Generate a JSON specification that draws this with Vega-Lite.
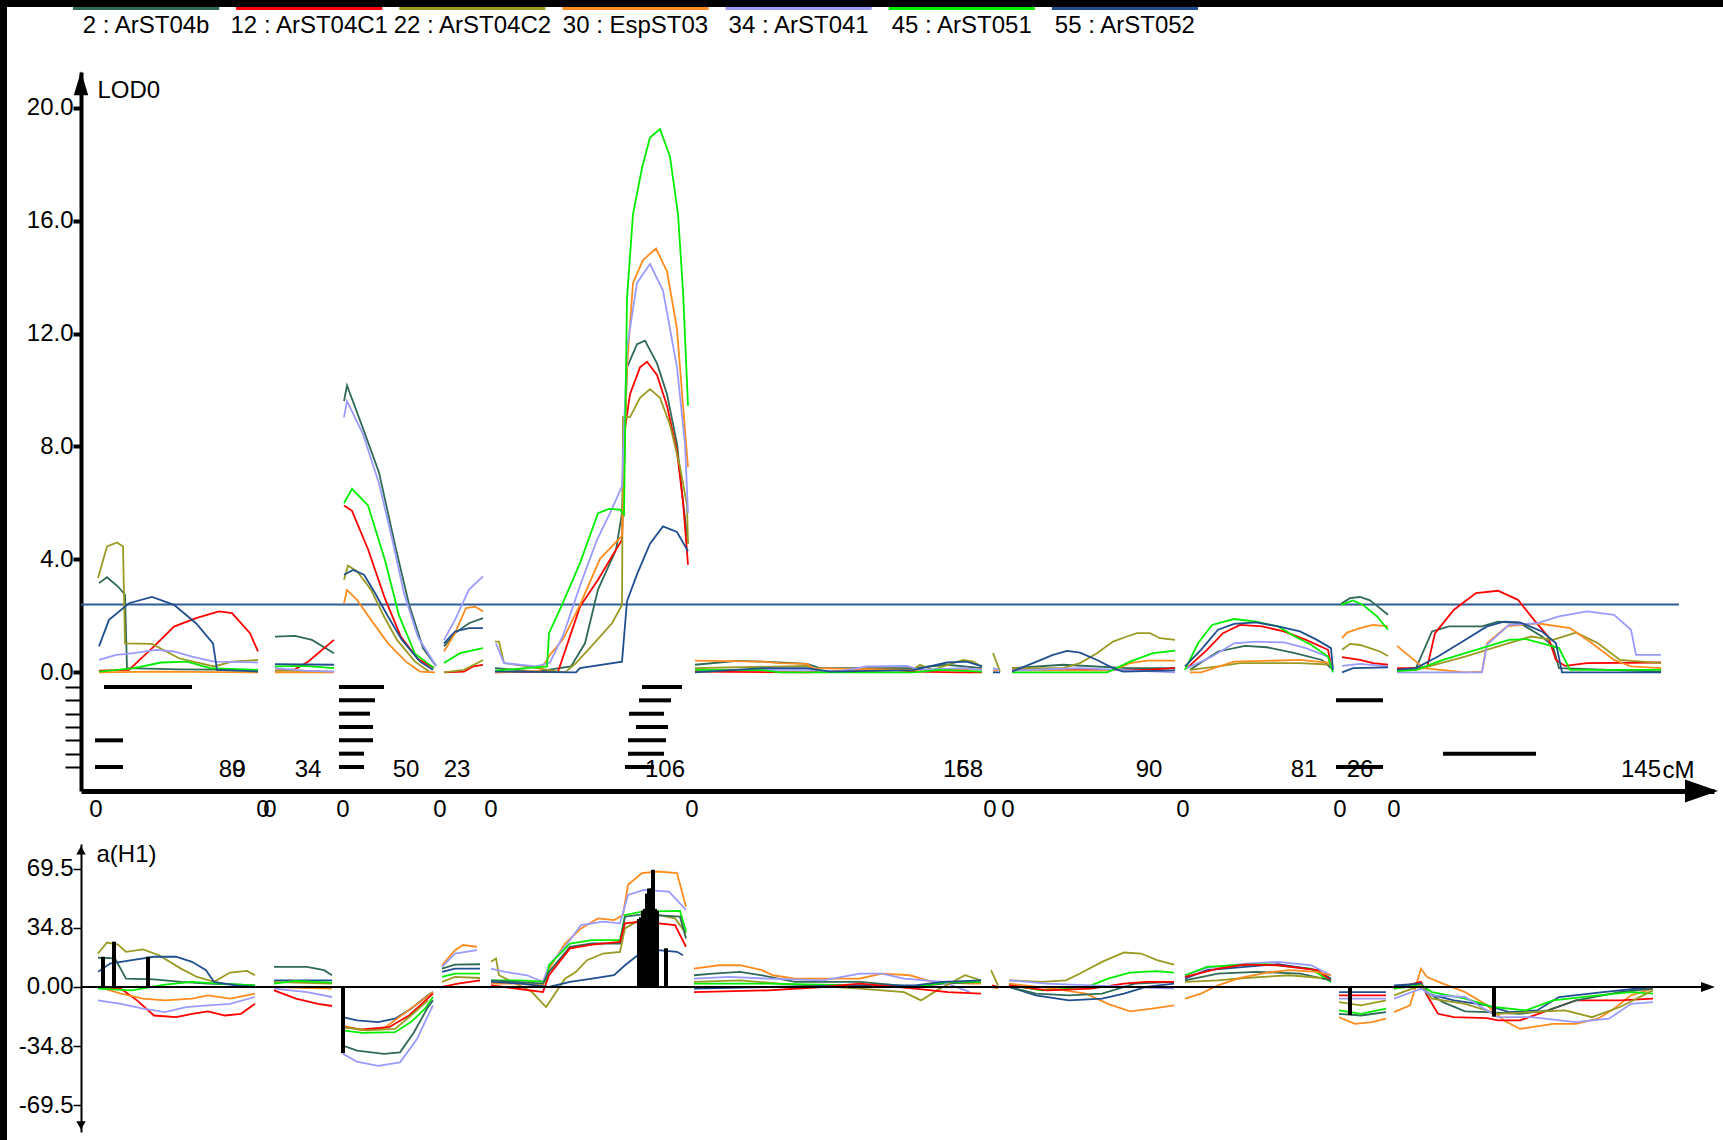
{
"$schema": "https://vega.github.io/schema/vega-lite/v6.json",
"width": 1716, "height": 1133,
"autosize": {"type": "none"},
"padding": {"left": 7, "top": 7, "right": 0, "bottom": 0},
"background": "black",
"config": {"view": {"fill": "white", "stroke": null}, "font": "Liberation Sans", "axis": {"grid": false, "labelFont": "Liberation Sans", "titleFont": "Liberation Sans"}},
"datasets": {
"legend": [
{"trait":"ArST04b","label":"2 : ArST04b"},{"trait":"ArST04C1","label":"12 : ArST04C1"},{"trait":"ArST04C2","label":"22 : ArST04C2"},{"trait":"EspST03","label":"30 : EspST03"},{"trait":"ArST041","label":"34 : ArST041"},{"trait":"ArST051","label":"45 : ArST051"},{"trait":"ArST052","label":"55 : ArST052"}],
"lglabels": [
{"side":"start","label":"0","pos":96},{"side":"start","label":"0","pos":263},{"side":"start","label":"0","pos":270},{"side":"start","label":"0","pos":343},{"side":"start","label":"0","pos":440},{"side":"start","label":"0","pos":491},{"side":"start","label":"0","pos":692},{"side":"start","label":"0","pos":990},{"side":"start","label":"0","pos":1008},{"side":"start","label":"0","pos":1183},{"side":"start","label":"0","pos":1340},{"side":"start","label":"0","pos":1394},
{"side":"end","label":"89","pos":232},{"side":"end","label":"0","pos":239},{"side":"end","label":"34","pos":308},{"side":"end","label":"50","pos":406},{"side":"end","label":"23","pos":457},{"side":"end","label":"106","pos":665},{"side":"end","label":"158","pos":963},{"side":"end","label":"6","pos":963},{"side":"end","label":"90","pos":1149},{"side":"end","label":"81","pos":1304},{"side":"end","label":"26","pos":1360},{"side":"end","label":"145","pos":1641}],
"intervals": [
{"trait":"ArST04b","start":104,"end":192},{"trait":"ArST041","start":95,"end":123},{"trait":"ArST052","start":95,"end":123},
{"trait":"ArST04b","start":339,"end":384},{"trait":"ArST04C1","start":339,"end":375},{"trait":"ArST04C2","start":339,"end":370},{"trait":"EspST03","start":339,"end":373},{"trait":"ArST041","start":339,"end":373},{"trait":"ArST051","start":339,"end":364},{"trait":"ArST052","start":339,"end":364},
{"trait":"ArST04b","start":642,"end":682},{"trait":"ArST04C1","start":639,"end":671},{"trait":"ArST04C2","start":629,"end":664},{"trait":"EspST03","start":636,"end":668},{"trait":"ArST041","start":628,"end":666},{"trait":"ArST051","start":628,"end":664},{"trait":"ArST052","start":625,"end":654},
{"trait":"ArST04C1","start":1336,"end":1383},{"trait":"ArST052","start":1336,"end":1383},{"trait":"ArST051","start":1443,"end":1536}],
"needles": [
{"pos":103,"effect":17.8},{"pos":114,"effect":26.7},{"pos":148,"effect":17.8},{"pos":343,"effect":-39},{"pos":639,"effect":40},{"pos":641,"effect":41},{"pos":643,"effect":45},{"pos":645,"effect":46},{"pos":647,"effect":55},{"pos":649,"effect":58},{"pos":651,"effect":58},{"pos":653,"effect":69},{"pos":655,"effect":46},{"pos":657,"effect":45},{"pos":666,"effect":22.8},{"pos":1350,"effect":-16.5},{"pos":1494,"effect":-17.5}],
"lod": [
{"trait":"ArST04b","lg":1,"pos":99,"lod":3.16},{"trait":"ArST04b","lg":1,"pos":107,"lod":3.37},{"trait":"ArST04b","lg":1,"pos":118,"lod":3.04},{"trait":"ArST04b","lg":1,"pos":125,"lod":2.75},{"trait":"ArST04b","lg":1,"pos":127,"lod":0.15},{"trait":"ArST04b","lg":1,"pos":179,"lod":0.11},{"trait":"ArST04b","lg":1,"pos":258,"lod":0.09},
{"trait":"ArST04C1","lg":1,"pos":99,"lod":0.06},{"trait":"ArST04C1","lg":1,"pos":129,"lod":0.09},{"trait":"ArST04C1","lg":1,"pos":154,"lod":0.92},{"trait":"ArST04C1","lg":1,"pos":174,"lod":1.62},{"trait":"ArST04C1","lg":1,"pos":196,"lod":1.92},{"trait":"ArST04C1","lg":1,"pos":219,"lod":2.16},{"trait":"ArST04C1","lg":1,"pos":232,"lod":2.1},{"trait":"ArST04C1","lg":1,"pos":250,"lod":1.39},{"trait":"ArST04C1","lg":1,"pos":258,"lod":0.74},
{"trait":"ArST04C2","lg":1,"pos":98,"lod":3.34},{"trait":"ArST04C2","lg":1,"pos":107,"lod":4.46},{"trait":"ArST04C2","lg":1,"pos":117,"lod":4.6},{"trait":"ArST04C2","lg":1,"pos":123,"lod":4.46},{"trait":"ArST04C2","lg":1,"pos":125,"lod":1.03},{"trait":"ArST04C2","lg":1,"pos":152,"lod":1.01},{"trait":"ArST04C2","lg":1,"pos":179,"lod":0.5},{"trait":"ArST04C2","lg":1,"pos":214,"lod":0.21},{"trait":"ArST04C2","lg":1,"pos":232,"lod":0.38},{"trait":"ArST04C2","lg":1,"pos":258,"lod":0.44},
{"trait":"EspST03","lg":1,"pos":99,"lod":0},{"trait":"EspST03","lg":1,"pos":156,"lod":0.03},{"trait":"EspST03","lg":1,"pos":258,"lod":0},
{"trait":"ArST041","lg":1,"pos":99,"lod":0.44},{"trait":"ArST041","lg":1,"pos":116,"lod":0.62},{"trait":"ArST041","lg":1,"pos":134,"lod":0.68},{"trait":"ArST041","lg":1,"pos":156,"lod":0.8},{"trait":"ArST041","lg":1,"pos":174,"lod":0.74},{"trait":"ArST041","lg":1,"pos":192,"lod":0.56},{"trait":"ArST041","lg":1,"pos":214,"lod":0.38},{"trait":"ArST041","lg":1,"pos":258,"lod":0.35},
{"trait":"ArST051","lg":1,"pos":99,"lod":0.03},{"trait":"ArST051","lg":1,"pos":134,"lod":0.15},{"trait":"ArST051","lg":1,"pos":161,"lod":0.35},{"trait":"ArST051","lg":1,"pos":187,"lod":0.38},{"trait":"ArST051","lg":1,"pos":210,"lod":0.15},{"trait":"ArST051","lg":1,"pos":258,"lod":0.09},
{"trait":"ArST052","lg":1,"pos":99,"lod":0.92},{"trait":"ArST052","lg":1,"pos":109,"lod":1.86},{"trait":"ArST052","lg":1,"pos":129,"lod":2.45},{"trait":"ArST052","lg":1,"pos":152,"lod":2.67},{"trait":"ArST052","lg":1,"pos":174,"lod":2.39},{"trait":"ArST052","lg":1,"pos":196,"lod":1.74},{"trait":"ArST052","lg":1,"pos":213,"lod":1.03},{"trait":"ArST052","lg":1,"pos":217,"lod":0.09},{"trait":"ArST052","lg":1,"pos":258,"lod":0.03},
{"trait":"ArST04b","lg":3,"pos":275,"lod":1.27},{"trait":"ArST04b","lg":3,"pos":295,"lod":1.29},{"trait":"ArST04b","lg":3,"pos":312,"lod":1.15},{"trait":"ArST04b","lg":3,"pos":334,"lod":0.68},
{"trait":"ArST04C1","lg":3,"pos":275,"lod":0.06},{"trait":"ArST04C1","lg":3,"pos":295,"lod":0.11},{"trait":"ArST04C1","lg":3,"pos":308,"lod":0.38},{"trait":"ArST04C1","lg":3,"pos":334,"lod":1.15},
{"trait":"ArST04C2","lg":3,"pos":275,"lod":0.06},{"trait":"ArST04C2","lg":3,"pos":334,"lod":0.03},
{"trait":"EspST03","lg":3,"pos":275,"lod":0},{"trait":"EspST03","lg":3,"pos":334,"lod":0},
{"trait":"ArST041","lg":3,"pos":275,"lod":0.15},{"trait":"ArST041","lg":3,"pos":304,"lod":0.06},{"trait":"ArST041","lg":3,"pos":334,"lod":0.03},
{"trait":"ArST051","lg":3,"pos":275,"lod":0.21},{"trait":"ArST051","lg":3,"pos":304,"lod":0.23},{"trait":"ArST051","lg":3,"pos":334,"lod":0.15},
{"trait":"ArST052","lg":3,"pos":275,"lod":0.29},{"trait":"ArST052","lg":3,"pos":334,"lod":0.27},
{"trait":"ArST04b","lg":4,"pos":344,"lod":9.61},{"trait":"ArST04b","lg":4,"pos":347,"lod":10.16},{"trait":"ArST04b","lg":4,"pos":363,"lod":8.64},{"trait":"ArST04b","lg":4,"pos":379,"lod":7.08},{"trait":"ArST04b","lg":4,"pos":396,"lod":4.36},{"trait":"ArST04b","lg":4,"pos":409,"lod":2.41},{"trait":"ArST04b","lg":4,"pos":423,"lod":0.86},{"trait":"ArST04b","lg":4,"pos":436,"lod":0.23},
{"trait":"ArST04C1","lg":4,"pos":344,"lod":5.91},{"trait":"ArST04C1","lg":4,"pos":352,"lod":5.72},{"trait":"ArST04C1","lg":4,"pos":368,"lod":4.36},{"trait":"ArST04C1","lg":4,"pos":385,"lod":2.61},{"trait":"ArST04C1","lg":4,"pos":401,"lod":1.25},{"trait":"ArST04C1","lg":4,"pos":418,"lod":0.47},{"trait":"ArST04C1","lg":4,"pos":434,"lod":0.16},
{"trait":"ArST04C2","lg":4,"pos":344,"lod":3.28},{"trait":"ArST04C2","lg":4,"pos":348,"lod":3.78},{"trait":"ArST04C2","lg":4,"pos":357,"lod":3.58},{"trait":"ArST04C2","lg":4,"pos":371,"lod":2.93},{"trait":"ArST04C2","lg":4,"pos":384,"lod":1.98},{"trait":"ArST04C2","lg":4,"pos":397,"lod":1.15},{"trait":"ArST04C2","lg":4,"pos":415,"lod":0.38},{"trait":"ArST04C2","lg":4,"pos":429,"lod":0.03},
{"trait":"EspST03","lg":4,"pos":344,"lod":2.45},{"trait":"EspST03","lg":4,"pos":347,"lod":2.92},{"trait":"EspST03","lg":4,"pos":357,"lod":2.57},{"trait":"EspST03","lg":4,"pos":371,"lod":1.86},{"trait":"EspST03","lg":4,"pos":388,"lod":1.03},{"trait":"EspST03","lg":4,"pos":406,"lod":0.38},{"trait":"EspST03","lg":4,"pos":420,"lod":0.03},{"trait":"EspST03","lg":4,"pos":435,"lod":0},
{"trait":"ArST041","lg":4,"pos":344,"lod":9.03},{"trait":"ArST041","lg":4,"pos":347,"lod":9.61},{"trait":"ArST041","lg":4,"pos":363,"lod":8.44},{"trait":"ArST041","lg":4,"pos":379,"lod":6.69},{"trait":"ArST041","lg":4,"pos":392,"lod":4.75},{"trait":"ArST041","lg":4,"pos":404,"lod":2.8},{"trait":"ArST041","lg":4,"pos":418,"lod":1.25},{"trait":"ArST041","lg":4,"pos":436,"lod":0.23},
{"trait":"ArST051","lg":4,"pos":344,"lod":5.99},{"trait":"ArST051","lg":4,"pos":352,"lod":6.5},{"trait":"ArST051","lg":4,"pos":368,"lod":5.91},{"trait":"ArST051","lg":4,"pos":385,"lod":3.97},{"trait":"ArST051","lg":4,"pos":399,"lod":2.02},{"trait":"ArST051","lg":4,"pos":415,"lod":0.66},{"trait":"ArST051","lg":4,"pos":434,"lod":0.16},
{"trait":"ArST052","lg":4,"pos":344,"lod":3.46},{"trait":"ArST052","lg":4,"pos":353,"lod":3.63},{"trait":"ArST052","lg":4,"pos":364,"lod":3.46},{"trait":"ArST052","lg":4,"pos":375,"lod":2.81},{"trait":"ArST052","lg":4,"pos":388,"lod":1.98},{"trait":"ArST052","lg":4,"pos":402,"lod":1.15},{"trait":"ArST052","lg":4,"pos":420,"lod":0.38},{"trait":"ArST052","lg":4,"pos":433,"lod":0.09},
{"trait":"ArST04b","lg":5,"pos":444,"lod":0.92},{"trait":"ArST04b","lg":5,"pos":455,"lod":1.39},{"trait":"ArST04b","lg":5,"pos":469,"lod":1.74},{"trait":"ArST04b","lg":5,"pos":483,"lod":1.92},
{"trait":"ArST04C1","lg":5,"pos":444,"lod":0},{"trait":"ArST04C1","lg":5,"pos":464,"lod":0.03},{"trait":"ArST04C1","lg":5,"pos":473,"lod":0.21},{"trait":"ArST04C1","lg":5,"pos":483,"lod":0.27},
{"trait":"ArST04C2","lg":5,"pos":444,"lod":0},{"trait":"ArST04C2","lg":5,"pos":464,"lod":0.09},{"trait":"ArST04C2","lg":5,"pos":483,"lod":0.44},
{"trait":"EspST03","lg":5,"pos":444,"lod":0.74},{"trait":"EspST03","lg":5,"pos":455,"lod":1.39},{"trait":"EspST03","lg":5,"pos":466,"lod":2.28},{"trait":"EspST03","lg":5,"pos":475,"lod":2.33},{"trait":"EspST03","lg":5,"pos":483,"lod":2.16},
{"trait":"ArST041","lg":5,"pos":444,"lod":1.15},{"trait":"ArST041","lg":5,"pos":455,"lod":1.86},{"trait":"ArST041","lg":5,"pos":469,"lod":2.93},{"trait":"ArST041","lg":5,"pos":483,"lod":3.4},
{"trait":"ArST051","lg":5,"pos":444,"lod":0.33},{"trait":"ArST051","lg":5,"pos":460,"lod":0.68},{"trait":"ArST051","lg":5,"pos":483,"lod":0.86},
{"trait":"ArST052","lg":5,"pos":444,"lod":1.03},{"trait":"ArST052","lg":5,"pos":455,"lod":1.45},{"trait":"ArST052","lg":5,"pos":469,"lod":1.57},{"trait":"ArST052","lg":5,"pos":483,"lod":1.57},
{"trait":"ArST04b","lg":6,"pos":495,"lod":0.15},{"trait":"ArST04b","lg":6,"pos":536,"lod":0.03},{"trait":"ArST04b","lg":6,"pos":571,"lod":0.21},{"trait":"ArST04b","lg":6,"pos":585,"lod":1.03},{"trait":"ArST04b","lg":6,"pos":598,"lod":2.93},{"trait":"ArST04b","lg":6,"pos":616,"lod":4.34},{"trait":"ArST04b","lg":6,"pos":622,"lod":5.64},{"trait":"ArST04b","lg":6,"pos":627,"lod":10.8},{"trait":"ArST04b","lg":6,"pos":637,"lod":11.62},{"trait":"ArST04b","lg":6,"pos":645,"lod":11.75},{"trait":"ArST04b","lg":6,"pos":657,"lod":10.94},{"trait":"ArST04b","lg":6,"pos":667,"lod":9.85},{"trait":"ArST04b","lg":6,"pos":677,"lod":8.09},{"trait":"ArST04b","lg":6,"pos":683,"lod":6.05},{"trait":"ArST04b","lg":6,"pos":688,"lod":4.56},
{"trait":"ArST04C1","lg":6,"pos":495,"lod":0},{"trait":"ArST04C1","lg":6,"pos":558,"lod":0.03},{"trait":"ArST04C1","lg":6,"pos":562,"lod":0.44},{"trait":"ArST04C1","lg":6,"pos":580,"lod":2.33},{"trait":"ArST04C1","lg":6,"pos":598,"lod":3.28},{"trait":"ArST04C1","lg":6,"pos":622,"lod":4.7},{"trait":"ArST04C1","lg":6,"pos":625,"lod":8.63},{"trait":"ArST04C1","lg":6,"pos":630,"lod":9.85},{"trait":"ArST04C1","lg":6,"pos":640,"lod":10.8},{"trait":"ArST04C1","lg":6,"pos":647,"lod":11.0},{"trait":"ArST04C1","lg":6,"pos":657,"lod":10.53},{"trait":"ArST04C1","lg":6,"pos":667,"lod":9.44},{"trait":"ArST04C1","lg":6,"pos":677,"lod":7.82},{"trait":"ArST04C1","lg":6,"pos":683,"lod":6.05},{"trait":"ArST04C1","lg":6,"pos":688,"lod":3.81},
{"trait":"ArST04C2","lg":6,"pos":495,"lod":1.09},{"trait":"ArST04C2","lg":6,"pos":499,"lod":1.09},{"trait":"ArST04C2","lg":6,"pos":504,"lod":0.33},{"trait":"ArST04C2","lg":6,"pos":527,"lod":0.21},{"trait":"ArST04C2","lg":6,"pos":558,"lod":0.03},{"trait":"ArST04C2","lg":6,"pos":565,"lod":0},{"trait":"ArST04C2","lg":6,"pos":576,"lod":0.33},{"trait":"ArST04C2","lg":6,"pos":594,"lod":1.03},{"trait":"ArST04C2","lg":6,"pos":612,"lod":1.74},{"trait":"ArST04C2","lg":6,"pos":622,"lod":2.39},{"trait":"ArST04C2","lg":6,"pos":623,"lod":9.04},{"trait":"ArST04C2","lg":6,"pos":630,"lod":9.04},{"trait":"ArST04C2","lg":6,"pos":640,"lod":9.72},{"trait":"ArST04C2","lg":6,"pos":650,"lod":10.03},{"trait":"ArST04C2","lg":6,"pos":660,"lod":9.72},{"trait":"ArST04C2","lg":6,"pos":670,"lod":8.77},{"trait":"ArST04C2","lg":6,"pos":680,"lod":7.27},{"trait":"ArST04C2","lg":6,"pos":687,"lod":5.92},{"trait":"ArST04C2","lg":6,"pos":688,"lod":4.56},
{"trait":"EspST03","lg":6,"pos":495,"lod":0},{"trait":"EspST03","lg":6,"pos":540,"lod":0.05},{"trait":"EspST03","lg":6,"pos":550,"lod":0.62},{"trait":"EspST03","lg":6,"pos":563,"lod":1.17},{"trait":"EspST03","lg":6,"pos":580,"lod":2.39},{"trait":"EspST03","lg":6,"pos":600,"lod":4.02},{"trait":"EspST03","lg":6,"pos":622,"lod":4.83},{"trait":"EspST03","lg":6,"pos":627,"lod":10.8},{"trait":"EspST03","lg":6,"pos":633,"lod":13.79},{"trait":"EspST03","lg":6,"pos":643,"lod":14.6},{"trait":"EspST03","lg":6,"pos":656,"lod":15.01},{"trait":"EspST03","lg":6,"pos":667,"lod":14.2},{"trait":"EspST03","lg":6,"pos":677,"lod":12.16},{"trait":"EspST03","lg":6,"pos":683,"lod":9.44},{"trait":"EspST03","lg":6,"pos":688,"lod":7.27},
{"trait":"ArST041","lg":6,"pos":496,"lod":1.03},{"trait":"ArST041","lg":6,"pos":504,"lod":0.33},{"trait":"ArST041","lg":6,"pos":536,"lod":0.21},{"trait":"ArST041","lg":6,"pos":550,"lod":0.35},{"trait":"ArST041","lg":6,"pos":563,"lod":1.3},{"trait":"ArST041","lg":6,"pos":580,"lod":3.07},{"trait":"ArST041","lg":6,"pos":597,"lod":4.69},{"trait":"ArST041","lg":6,"pos":610,"lod":5.64},{"trait":"ArST041","lg":6,"pos":622,"lod":6.59},{"trait":"ArST041","lg":6,"pos":627,"lod":11.48},{"trait":"ArST041","lg":6,"pos":637,"lod":13.79},{"trait":"ArST041","lg":6,"pos":650,"lod":14.46},{"trait":"ArST041","lg":6,"pos":663,"lod":13.52},{"trait":"ArST041","lg":6,"pos":677,"lod":10.8},{"trait":"ArST041","lg":6,"pos":685,"lod":8.09},{"trait":"ArST041","lg":6,"pos":688,"lod":5.64},
{"trait":"ArST051","lg":6,"pos":495,"lod":0.06},{"trait":"ArST051","lg":6,"pos":547,"lod":0.21},{"trait":"ArST051","lg":6,"pos":549,"lod":1.39},{"trait":"ArST051","lg":6,"pos":562,"lod":2.39},{"trait":"ArST051","lg":6,"pos":580,"lod":3.87},{"trait":"ArST051","lg":6,"pos":598,"lod":5.64},{"trait":"ArST051","lg":6,"pos":609,"lod":5.79},{"trait":"ArST051","lg":6,"pos":620,"lod":5.76},{"trait":"ArST051","lg":6,"pos":624,"lod":5.58},{"trait":"ArST051","lg":6,"pos":627,"lod":13.24},{"trait":"ArST051","lg":6,"pos":633,"lod":16.23},{"trait":"ArST051","lg":6,"pos":642,"lod":17.86},{"trait":"ArST051","lg":6,"pos":650,"lod":18.94},{"trait":"ArST051","lg":6,"pos":660,"lod":19.24},{"trait":"ArST051","lg":6,"pos":670,"lod":18.26},{"trait":"ArST051","lg":6,"pos":678,"lod":16.23},{"trait":"ArST051","lg":6,"pos":683,"lod":13.52},{"trait":"ArST051","lg":6,"pos":688,"lod":9.44},
{"trait":"ArST052","lg":6,"pos":495,"lod":0.03},{"trait":"ArST052","lg":6,"pos":576,"lod":0},{"trait":"ArST052","lg":6,"pos":580,"lod":0.15},{"trait":"ArST052","lg":6,"pos":622,"lod":0.38},{"trait":"ArST052","lg":6,"pos":627,"lod":2.52},{"trait":"ArST052","lg":6,"pos":637,"lod":3.47},{"trait":"ArST052","lg":6,"pos":650,"lod":4.56},{"trait":"ArST052","lg":6,"pos":663,"lod":5.17},{"trait":"ArST052","lg":6,"pos":677,"lod":4.97},{"trait":"ArST052","lg":6,"pos":688,"lod":4.29},
{"trait":"ArST04b","lg":7,"pos":695,"lod":0.27},{"trait":"ArST04b","lg":7,"pos":737,"lod":0.41},{"trait":"ArST04b","lg":7,"pos":763,"lod":0.38},{"trait":"ArST04b","lg":7,"pos":793,"lod":0.33},{"trait":"ArST04b","lg":7,"pos":807,"lod":0.3},{"trait":"ArST04b","lg":7,"pos":820,"lod":0.15},{"trait":"ArST04b","lg":7,"pos":913,"lod":0.15},{"trait":"ArST04b","lg":7,"pos":947,"lod":0.27},{"trait":"ArST04b","lg":7,"pos":982,"lod":0.15},
{"trait":"ArST04C1","lg":7,"pos":695,"lod":0.03},{"trait":"ArST04C1","lg":7,"pos":807,"lod":0},{"trait":"ArST04C1","lg":7,"pos":873,"lod":0.09},{"trait":"ArST04C1","lg":7,"pos":893,"lod":0.09},{"trait":"ArST04C1","lg":7,"pos":913,"lod":0.03},{"trait":"ArST04C1","lg":7,"pos":960,"lod":0},{"trait":"ArST04C1","lg":7,"pos":982,"lod":0},
{"trait":"ArST04C2","lg":7,"pos":695,"lod":0.15},{"trait":"ArST04C2","lg":7,"pos":807,"lod":0.23},{"trait":"ArST04C2","lg":7,"pos":820,"lod":0.03},{"trait":"ArST04C2","lg":7,"pos":913,"lod":0.09},{"trait":"ArST04C2","lg":7,"pos":920,"lod":0.27},{"trait":"ArST04C2","lg":7,"pos":933,"lod":0.09},{"trait":"ArST04C2","lg":7,"pos":963,"lod":0.44},{"trait":"ArST04C2","lg":7,"pos":973,"lod":0.38},{"trait":"ArST04C2","lg":7,"pos":982,"lod":0.21},
{"trait":"EspST03","lg":7,"pos":695,"lod":0.42},{"trait":"EspST03","lg":7,"pos":763,"lod":0.38},{"trait":"EspST03","lg":7,"pos":780,"lod":0.33},{"trait":"EspST03","lg":7,"pos":807,"lod":0.3},{"trait":"EspST03","lg":7,"pos":813,"lod":0.15},{"trait":"EspST03","lg":7,"pos":913,"lod":0.09},{"trait":"EspST03","lg":7,"pos":943,"lod":0.09},{"trait":"EspST03","lg":7,"pos":982,"lod":0.11},
{"trait":"ArST041","lg":7,"pos":695,"lod":0.08},{"trait":"ArST041","lg":7,"pos":807,"lod":0.09},{"trait":"ArST041","lg":7,"pos":837,"lod":0.03},{"trait":"ArST041","lg":7,"pos":867,"lod":0.21},{"trait":"ArST041","lg":7,"pos":907,"lod":0.23},{"trait":"ArST041","lg":7,"pos":920,"lod":0.09},{"trait":"ArST041","lg":7,"pos":963,"lod":0.15},{"trait":"ArST041","lg":7,"pos":982,"lod":0.09},
{"trait":"ArST051","lg":7,"pos":695,"lod":0.09},{"trait":"ArST051","lg":7,"pos":763,"lod":0.08},{"trait":"ArST051","lg":7,"pos":780,"lod":0},{"trait":"ArST051","lg":7,"pos":913,"lod":0},{"trait":"ArST051","lg":7,"pos":940,"lod":0.09},{"trait":"ArST051","lg":7,"pos":982,"lod":0.03},
{"trait":"ArST052","lg":7,"pos":695,"lod":0},{"trait":"ArST052","lg":7,"pos":763,"lod":0.15},{"trait":"ArST052","lg":7,"pos":807,"lod":0.15},{"trait":"ArST052","lg":7,"pos":830,"lod":0.03},{"trait":"ArST052","lg":7,"pos":913,"lod":0.08},{"trait":"ArST052","lg":7,"pos":947,"lod":0.35},{"trait":"ArST052","lg":7,"pos":967,"lod":0.38},{"trait":"ArST052","lg":7,"pos":982,"lod":0.21},
{"trait":"ArST04C2","lg":8,"pos":993,"lod":0.68},{"trait":"ArST04C2","lg":8,"pos":1000,"lod":0.03},
{"trait":"EspST03","lg":8,"pos":993,"lod":0.07},{"trait":"EspST03","lg":8,"pos":998,"lod":0.07},
{"trait":"ArST041","lg":8,"pos":993,"lod":0.15},{"trait":"ArST041","lg":8,"pos":999,"lod":0.09},
{"trait":"ArST052","lg":8,"pos":993,"lod":0},{"trait":"ArST052","lg":8,"pos":1000,"lod":0},
{"trait":"ArST04b","lg":9,"pos":1012,"lod":0.15},{"trait":"ArST04b","lg":9,"pos":1063,"lod":0.27},{"trait":"ArST04b","lg":9,"pos":1127,"lod":0.15},{"trait":"ArST04b","lg":9,"pos":1175,"lod":0.15},
{"trait":"ArST04C1","lg":9,"pos":1012,"lod":0.09},{"trait":"ArST04C1","lg":9,"pos":1080,"lod":0.09},{"trait":"ArST04C1","lg":9,"pos":1147,"lod":0.09},{"trait":"ArST04C1","lg":9,"pos":1175,"lod":0.15},
{"trait":"ArST04C2","lg":9,"pos":1012,"lod":0.15},{"trait":"ArST04C2","lg":9,"pos":1063,"lod":0.15},{"trait":"ArST04C2","lg":9,"pos":1080,"lod":0.33},{"trait":"ArST04C2","lg":9,"pos":1097,"lod":0.68},{"trait":"ArST04C2","lg":9,"pos":1113,"lod":1.09},{"trait":"ArST04C2","lg":9,"pos":1127,"lod":1.27},{"trait":"ArST04C2","lg":9,"pos":1137,"lod":1.39},{"trait":"ArST04C2","lg":9,"pos":1150,"lod":1.39},{"trait":"ArST04C2","lg":9,"pos":1160,"lod":1.21},{"trait":"ArST04C2","lg":9,"pos":1175,"lod":1.15},
{"trait":"EspST03","lg":9,"pos":1012,"lod":0.07},{"trait":"EspST03","lg":9,"pos":1113,"lod":0.07},{"trait":"EspST03","lg":9,"pos":1130,"lod":0.33},{"trait":"EspST03","lg":9,"pos":1147,"lod":0.42},{"trait":"EspST03","lg":9,"pos":1175,"lod":0.42},
{"trait":"ArST041","lg":9,"pos":1012,"lod":0.07},{"trait":"ArST041","lg":9,"pos":1080,"lod":0.15},{"trait":"ArST041","lg":9,"pos":1175,"lod":0},
{"trait":"ArST051","lg":9,"pos":1012,"lod":0},{"trait":"ArST051","lg":9,"pos":1107,"lod":0},{"trait":"ArST051","lg":9,"pos":1113,"lod":0.09},{"trait":"ArST051","lg":9,"pos":1130,"lod":0.38},{"trait":"ArST051","lg":9,"pos":1153,"lod":0.68},{"trait":"ArST051","lg":9,"pos":1175,"lod":0.77},
{"trait":"ArST052","lg":9,"pos":1012,"lod":0.03},{"trait":"ArST052","lg":9,"pos":1033,"lod":0.33},{"trait":"ArST052","lg":9,"pos":1053,"lod":0.62},{"trait":"ArST052","lg":9,"pos":1067,"lod":0.76},{"trait":"ArST052","lg":9,"pos":1080,"lod":0.7},{"trait":"ArST052","lg":9,"pos":1097,"lod":0.44},{"trait":"ArST052","lg":9,"pos":1113,"lod":0.15},{"trait":"ArST052","lg":9,"pos":1123,"lod":0.03},{"trait":"ArST052","lg":9,"pos":1175,"lod":0.07},
{"trait":"ArST04b","lg":10,"pos":1190,"lod":0.09},{"trait":"ArST04b","lg":10,"pos":1218,"lod":0.74},{"trait":"ArST04b","lg":10,"pos":1245,"lod":0.94},{"trait":"ArST04b","lg":10,"pos":1267,"lod":0.89},{"trait":"ArST04b","lg":10,"pos":1295,"lod":0.68},{"trait":"ArST04b","lg":10,"pos":1322,"lod":0.44},{"trait":"ArST04b","lg":10,"pos":1333,"lod":0.09},
{"trait":"ArST04C1","lg":10,"pos":1187,"lod":0.15},{"trait":"ArST04C1","lg":10,"pos":1207,"lod":0.8},{"trait":"ArST04C1","lg":10,"pos":1223,"lod":1.39},{"trait":"ArST04C1","lg":10,"pos":1240,"lod":1.68},{"trait":"ArST04C1","lg":10,"pos":1262,"lod":1.63},{"trait":"ArST04C1","lg":10,"pos":1284,"lod":1.45},{"trait":"ArST04C1","lg":10,"pos":1306,"lod":1.15},{"trait":"ArST04C1","lg":10,"pos":1328,"lod":0.8},{"trait":"ArST04C1","lg":10,"pos":1332,"lod":0.09},
{"trait":"ArST04C2","lg":10,"pos":1190,"lod":0.09},{"trait":"ArST04C2","lg":10,"pos":1218,"lod":0.21},{"trait":"ArST04C2","lg":10,"pos":1240,"lod":0.33},{"trait":"ArST04C2","lg":10,"pos":1300,"lod":0.33},{"trait":"ArST04C2","lg":10,"pos":1333,"lod":0.27},
{"trait":"EspST03","lg":10,"pos":1190,"lod":0},{"trait":"EspST03","lg":10,"pos":1201,"lod":0},{"trait":"EspST03","lg":10,"pos":1234,"lod":0.38},{"trait":"EspST03","lg":10,"pos":1300,"lod":0.44},{"trait":"EspST03","lg":10,"pos":1333,"lod":0.33},
{"trait":"ArST041","lg":10,"pos":1187,"lod":0.15},{"trait":"ArST041","lg":10,"pos":1212,"lod":0.56},{"trait":"ArST041","lg":10,"pos":1234,"lod":1.03},{"trait":"ArST041","lg":10,"pos":1256,"lod":1.09},{"trait":"ArST041","lg":10,"pos":1284,"lod":1.06},{"trait":"ArST041","lg":10,"pos":1306,"lod":0.86},{"trait":"ArST041","lg":10,"pos":1328,"lod":0.56},{"trait":"ArST041","lg":10,"pos":1332,"lod":0.09},
{"trait":"ArST051","lg":10,"pos":1185,"lod":0.09},{"trait":"ArST051","lg":10,"pos":1198,"lod":1.03},{"trait":"ArST051","lg":10,"pos":1212,"lod":1.68},{"trait":"ArST051","lg":10,"pos":1234,"lod":1.89},{"trait":"ArST051","lg":10,"pos":1256,"lod":1.8},{"trait":"ArST051","lg":10,"pos":1278,"lod":1.63},{"trait":"ArST051","lg":10,"pos":1295,"lod":1.27},{"trait":"ArST051","lg":10,"pos":1311,"lod":0.98},{"trait":"ArST051","lg":10,"pos":1328,"lod":0.56},{"trait":"ArST051","lg":10,"pos":1333,"lod":0},
{"trait":"ArST052","lg":10,"pos":1185,"lod":0.21},{"trait":"ArST052","lg":10,"pos":1201,"lod":0.8},{"trait":"ArST052","lg":10,"pos":1218,"lod":1.51},{"trait":"ArST052","lg":10,"pos":1234,"lod":1.72},{"trait":"ArST052","lg":10,"pos":1256,"lod":1.77},{"trait":"ArST052","lg":10,"pos":1278,"lod":1.63},{"trait":"ArST052","lg":10,"pos":1300,"lod":1.45},{"trait":"ArST052","lg":10,"pos":1317,"lod":1.15},{"trait":"ArST052","lg":10,"pos":1331,"lod":0.86},{"trait":"ArST052","lg":10,"pos":1333,"lod":0.09},
{"trait":"ArST04b","lg":11,"pos":1341,"lod":2.43},{"trait":"ArST04b","lg":11,"pos":1350,"lod":2.63},{"trait":"ArST04b","lg":11,"pos":1360,"lod":2.67},{"trait":"ArST04b","lg":11,"pos":1370,"lod":2.55},{"trait":"ArST04b","lg":11,"pos":1378,"lod":2.33},{"trait":"ArST04b","lg":11,"pos":1388,"lod":2.04},
{"trait":"ArST04C1","lg":11,"pos":1342,"lod":0.54},{"trait":"ArST04C1","lg":11,"pos":1360,"lod":0.44},{"trait":"ArST04C1","lg":11,"pos":1373,"lod":0.33},{"trait":"ArST04C1","lg":11,"pos":1388,"lod":0.27},
{"trait":"ArST04C2","lg":11,"pos":1342,"lod":0.8},{"trait":"ArST04C2","lg":11,"pos":1350,"lod":1.01},{"trait":"ArST04C2","lg":11,"pos":1360,"lod":0.97},{"trait":"ArST04C2","lg":11,"pos":1370,"lod":0.86},{"trait":"ArST04C2","lg":11,"pos":1380,"lod":0.74},{"trait":"ArST04C2","lg":11,"pos":1388,"lod":0.58},
{"trait":"EspST03","lg":11,"pos":1342,"lod":1.21},{"trait":"EspST03","lg":11,"pos":1347,"lod":1.41},{"trait":"EspST03","lg":11,"pos":1360,"lod":1.57},{"trait":"EspST03","lg":11,"pos":1373,"lod":1.68},{"trait":"EspST03","lg":11,"pos":1388,"lod":1.63},
{"trait":"ArST041","lg":11,"pos":1342,"lod":0.23},{"trait":"ArST041","lg":11,"pos":1360,"lod":0.3},{"trait":"ArST041","lg":11,"pos":1388,"lod":0.21},
{"trait":"ArST051","lg":11,"pos":1341,"lod":2.39},{"trait":"ArST051","lg":11,"pos":1353,"lod":2.55},{"trait":"ArST051","lg":11,"pos":1363,"lod":2.39},{"trait":"ArST051","lg":11,"pos":1377,"lod":1.98},{"trait":"ArST051","lg":11,"pos":1388,"lod":1.51},
{"trait":"ArST052","lg":11,"pos":1342,"lod":0},{"trait":"ArST052","lg":11,"pos":1353,"lod":0.15},{"trait":"ArST052","lg":11,"pos":1388,"lod":0.18},
{"trait":"ArST04b","lg":12,"pos":1397,"lod":0.1},{"trait":"ArST04b","lg":12,"pos":1416,"lod":0.15},{"trait":"ArST04b","lg":12,"pos":1432,"lod":1.45},{"trait":"ArST04b","lg":12,"pos":1449,"lod":1.63},{"trait":"ArST04b","lg":12,"pos":1482,"lod":1.63},{"trait":"ArST04b","lg":12,"pos":1498,"lod":1.8},{"trait":"ArST04b","lg":12,"pos":1520,"lod":1.74},{"trait":"ArST04b","lg":12,"pos":1542,"lod":1.27},{"trait":"ArST04b","lg":12,"pos":1553,"lod":0.92},{"trait":"ArST04b","lg":12,"pos":1559,"lod":0.15},{"trait":"ArST04b","lg":12,"pos":1661,"lod":0.03},
{"trait":"ArST04C1","lg":12,"pos":1397,"lod":0.15},{"trait":"ArST04C1","lg":12,"pos":1427,"lod":0.15},{"trait":"ArST04C1","lg":12,"pos":1435,"lod":1.39},{"trait":"ArST04C1","lg":12,"pos":1454,"lod":2.22},{"trait":"ArST04C1","lg":12,"pos":1476,"lod":2.81},{"trait":"ArST04C1","lg":12,"pos":1498,"lod":2.89},{"trait":"ArST04C1","lg":12,"pos":1518,"lod":2.57},{"trait":"ArST04C1","lg":12,"pos":1534,"lod":1.86},{"trait":"ArST04C1","lg":12,"pos":1548,"lod":1.27},{"trait":"ArST04C1","lg":12,"pos":1556,"lod":0.44},{"trait":"ArST04C1","lg":12,"pos":1565,"lod":0.23},{"trait":"ArST04C1","lg":12,"pos":1587,"lod":0.33},{"trait":"ArST04C1","lg":12,"pos":1661,"lod":0.35},
{"trait":"ArST04C2","lg":12,"pos":1397,"lod":0.09},{"trait":"ArST04C2","lg":12,"pos":1416,"lod":0.09},{"trait":"ArST04C2","lg":12,"pos":1465,"lod":0.56},{"trait":"ArST04C2","lg":12,"pos":1498,"lod":0.92},{"trait":"ArST04C2","lg":12,"pos":1531,"lod":1.27},{"trait":"ArST04C2","lg":12,"pos":1553,"lod":1.15},{"trait":"ArST04C2","lg":12,"pos":1576,"lod":1.41},{"trait":"ArST04C2","lg":12,"pos":1598,"lod":1.03},{"trait":"ArST04C2","lg":12,"pos":1620,"lod":0.44},{"trait":"ArST04C2","lg":12,"pos":1661,"lod":0.33},
{"trait":"EspST03","lg":12,"pos":1397,"lod":0.94},{"trait":"EspST03","lg":12,"pos":1410,"lod":0.56},{"trait":"EspST03","lg":12,"pos":1424,"lod":0.15},{"trait":"EspST03","lg":12,"pos":1465,"lod":0},{"trait":"EspST03","lg":12,"pos":1482,"lod":0.03},{"trait":"EspST03","lg":12,"pos":1487,"lod":1.03},{"trait":"EspST03","lg":12,"pos":1507,"lod":1.63},{"trait":"EspST03","lg":12,"pos":1537,"lod":1.74},{"trait":"EspST03","lg":12,"pos":1570,"lod":1.57},{"trait":"EspST03","lg":12,"pos":1592,"lod":1.03},{"trait":"EspST03","lg":12,"pos":1614,"lod":0.44},{"trait":"EspST03","lg":12,"pos":1631,"lod":0.21},{"trait":"EspST03","lg":12,"pos":1661,"lod":0.15},
{"trait":"ArST041","lg":12,"pos":1397,"lod":0},{"trait":"ArST041","lg":12,"pos":1482,"lod":0},{"trait":"ArST041","lg":12,"pos":1487,"lod":0.98},{"trait":"ArST041","lg":12,"pos":1509,"lod":1.68},{"trait":"ArST041","lg":12,"pos":1537,"lod":1.74},{"trait":"ArST041","lg":12,"pos":1559,"lod":1.98},{"trait":"ArST041","lg":12,"pos":1587,"lod":2.16},{"trait":"ArST041","lg":12,"pos":1614,"lod":2.04},{"trait":"ArST041","lg":12,"pos":1631,"lod":1.51},{"trait":"ArST041","lg":12,"pos":1636,"lod":0.62},{"trait":"ArST041","lg":12,"pos":1661,"lod":0.62},
{"trait":"ArST051","lg":12,"pos":1397,"lod":0.05},{"trait":"ArST051","lg":12,"pos":1416,"lod":0.09},{"trait":"ArST051","lg":12,"pos":1443,"lod":0.44},{"trait":"ArST051","lg":12,"pos":1476,"lod":0.8},{"trait":"ArST051","lg":12,"pos":1509,"lod":1.15},{"trait":"ArST051","lg":12,"pos":1526,"lod":1.18},{"trait":"ArST051","lg":12,"pos":1542,"lod":1.03},{"trait":"ArST051","lg":12,"pos":1559,"lod":0.86},{"trait":"ArST051","lg":12,"pos":1570,"lod":0.09},{"trait":"ArST051","lg":12,"pos":1661,"lod":0.09},
{"trait":"ArST052","lg":12,"pos":1397,"lod":0.1},{"trait":"ArST052","lg":12,"pos":1416,"lod":0.15},{"trait":"ArST052","lg":12,"pos":1438,"lod":0.56},{"trait":"ArST052","lg":12,"pos":1465,"lod":1.15},{"trait":"ArST052","lg":12,"pos":1487,"lod":1.63},{"trait":"ArST052","lg":12,"pos":1504,"lod":1.8},{"trait":"ArST052","lg":12,"pos":1520,"lod":1.77},{"trait":"ArST052","lg":12,"pos":1542,"lod":1.45},{"trait":"ArST052","lg":12,"pos":1556,"lod":1.03},{"trait":"ArST052","lg":12,"pos":1562,"lod":0},{"trait":"ArST052","lg":12,"pos":1661,"lod":0}
],
"effect": [
{"trait":"ArST04b","lg":1,"pos":98,"effect":17.2},{"trait":"ArST04b","lg":1,"pos":115,"effect":16.8},{"trait":"ArST04b","lg":1,"pos":126,"effect":4.9},{"trait":"ArST04b","lg":1,"pos":154,"effect":4.5},{"trait":"ArST04b","lg":1,"pos":181,"effect":3.0},{"trait":"ArST04b","lg":1,"pos":208,"effect":2.0},{"trait":"ArST04b","lg":1,"pos":230,"effect":1.6},{"trait":"ArST04b","lg":1,"pos":255,"effect":1.0},
{"trait":"ArST04C1","lg":1,"pos":98,"effect":0},{"trait":"ArST04C1","lg":1,"pos":121,"effect":-1.0},{"trait":"ArST04C1","lg":1,"pos":137,"effect":-7.9},{"trait":"ArST04C1","lg":1,"pos":154,"effect":-16.8},{"trait":"ArST04C1","lg":1,"pos":176,"effect":-17.8},{"trait":"ArST04C1","lg":1,"pos":192,"effect":-15.8},{"trait":"ArST04C1","lg":1,"pos":208,"effect":-14.4},{"trait":"ArST04C1","lg":1,"pos":225,"effect":-16.8},{"trait":"ArST04C1","lg":1,"pos":241,"effect":-15.8},{"trait":"ArST04C1","lg":1,"pos":255,"effect":-9.9},
{"trait":"ArST04C2","lg":1,"pos":98,"effect":19.7},{"trait":"ArST04C2","lg":1,"pos":107,"effect":26.2},{"trait":"ArST04C2","lg":1,"pos":118,"effect":25.0},{"trait":"ArST04C2","lg":1,"pos":126,"effect":20.7},{"trait":"ArST04C2","lg":1,"pos":143,"effect":22.1},{"trait":"ArST04C2","lg":1,"pos":159,"effect":18.7},{"trait":"ArST04C2","lg":1,"pos":181,"effect":10.8},{"trait":"ArST04C2","lg":1,"pos":197,"effect":5.9},{"trait":"ArST04C2","lg":1,"pos":214,"effect":3.0},{"trait":"ArST04C2","lg":1,"pos":230,"effect":8.5},{"trait":"ArST04C2","lg":1,"pos":247,"effect":9.5},{"trait":"ArST04C2","lg":1,"pos":255,"effect":6.9},
{"trait":"EspST03","lg":1,"pos":98,"effect":0},{"trait":"EspST03","lg":1,"pos":121,"effect":-3.9},{"trait":"EspST03","lg":1,"pos":143,"effect":-6.9},{"trait":"EspST03","lg":1,"pos":165,"effect":-7.9},{"trait":"EspST03","lg":1,"pos":192,"effect":-6.9},{"trait":"EspST03","lg":1,"pos":208,"effect":-4.9},{"trait":"EspST03","lg":1,"pos":230,"effect":-6.9},{"trait":"EspST03","lg":1,"pos":255,"effect":-3.9},
{"trait":"ArST041","lg":1,"pos":98,"effect":-7.9},{"trait":"ArST041","lg":1,"pos":121,"effect":-9.9},{"trait":"ArST041","lg":1,"pos":143,"effect":-12.8},{"trait":"ArST041","lg":1,"pos":165,"effect":-14.8},{"trait":"ArST041","lg":1,"pos":186,"effect":-11.8},{"trait":"ArST041","lg":1,"pos":208,"effect":-10.8},{"trait":"ArST041","lg":1,"pos":230,"effect":-9.9},{"trait":"ArST041","lg":1,"pos":255,"effect":-5.9},
{"trait":"ArST051","lg":1,"pos":98,"effect":-1.0},{"trait":"ArST051","lg":1,"pos":132,"effect":-2.0},{"trait":"ArST051","lg":1,"pos":165,"effect":1.4},{"trait":"ArST051","lg":1,"pos":192,"effect":3.0},{"trait":"ArST051","lg":1,"pos":219,"effect":2.0},{"trait":"ArST051","lg":1,"pos":255,"effect":1.0},
{"trait":"ArST052","lg":1,"pos":98,"effect":8.9},{"trait":"ArST052","lg":1,"pos":110,"effect":13.8},{"trait":"ArST052","lg":1,"pos":132,"effect":15.8},{"trait":"ArST052","lg":1,"pos":154,"effect":17.8},{"trait":"ArST052","lg":1,"pos":176,"effect":17.8},{"trait":"ArST052","lg":1,"pos":192,"effect":14.8},{"trait":"ArST052","lg":1,"pos":206,"effect":9.9},{"trait":"ArST052","lg":1,"pos":214,"effect":3.0},{"trait":"ArST052","lg":1,"pos":236,"effect":1.0},{"trait":"ArST052","lg":1,"pos":255,"effect":0},
{"trait":"ArST04b","lg":3,"pos":274,"effect":11.8},{"trait":"ArST04b","lg":3,"pos":307,"effect":11.8},{"trait":"ArST04b","lg":3,"pos":324,"effect":9.9},{"trait":"ArST04b","lg":3,"pos":332,"effect":6.9},
{"trait":"ArST052","lg":3,"pos":274,"effect":3.9},{"trait":"ArST052","lg":3,"pos":332,"effect":3.9},
{"trait":"ArST04C2","lg":3,"pos":274,"effect":3.0},{"trait":"ArST04C2","lg":3,"pos":296,"effect":2.6},{"trait":"ArST04C2","lg":3,"pos":332,"effect":2.0},
{"trait":"ArST051","lg":3,"pos":274,"effect":2.0},{"trait":"ArST051","lg":3,"pos":296,"effect":3.6},{"trait":"ArST051","lg":3,"pos":332,"effect":2.6},
{"trait":"EspST03","lg":3,"pos":274,"effect":0},{"trait":"EspST03","lg":3,"pos":332,"effect":-1.0},
{"trait":"ArST041","lg":3,"pos":274,"effect":-1.0},{"trait":"ArST041","lg":3,"pos":307,"effect":-3.0},{"trait":"ArST041","lg":3,"pos":332,"effect":-5.9},
{"trait":"ArST04C1","lg":3,"pos":274,"effect":-2.0},{"trait":"ArST04C1","lg":3,"pos":296,"effect":-6.9},{"trait":"ArST04C1","lg":3,"pos":318,"effect":-9.9},{"trait":"ArST04C1","lg":3,"pos":332,"effect":-11.2},
{"trait":"ArST052","lg":4,"pos":343,"effect":-17.8},{"trait":"ArST052","lg":4,"pos":357,"effect":-19.7},{"trait":"ArST052","lg":4,"pos":378,"effect":-20.7},{"trait":"ArST052","lg":4,"pos":395,"effect":-18.7},{"trait":"ArST052","lg":4,"pos":411,"effect":-12.8},{"trait":"ArST052","lg":4,"pos":428,"effect":-4.9},{"trait":"ArST052","lg":4,"pos":433,"effect":-3.0},
{"trait":"EspST03","lg":4,"pos":343,"effect":-22.7},{"trait":"EspST03","lg":4,"pos":362,"effect":-25.6},{"trait":"EspST03","lg":4,"pos":384,"effect":-24.3},{"trait":"EspST03","lg":4,"pos":406,"effect":-14.8},{"trait":"EspST03","lg":4,"pos":422,"effect":-7.9},{"trait":"EspST03","lg":4,"pos":433,"effect":-3.0},
{"trait":"ArST04C1","lg":4,"pos":343,"effect":-23.7},{"trait":"ArST04C1","lg":4,"pos":362,"effect":-25.0},{"trait":"ArST04C1","lg":4,"pos":389,"effect":-23.7},{"trait":"ArST04C1","lg":4,"pos":409,"effect":-16.8},{"trait":"ArST04C1","lg":4,"pos":422,"effect":-9.9},{"trait":"ArST04C1","lg":4,"pos":433,"effect":-3.9},
{"trait":"ArST051","lg":4,"pos":343,"effect":-25.6},{"trait":"ArST051","lg":4,"pos":362,"effect":-27.0},{"trait":"ArST051","lg":4,"pos":395,"effect":-26.6},{"trait":"ArST051","lg":4,"pos":411,"effect":-20.7},{"trait":"ArST051","lg":4,"pos":425,"effect":-12.8},{"trait":"ArST051","lg":4,"pos":433,"effect":-5.9},
{"trait":"ArST04C2","lg":4,"pos":343,"effect":-23.7},{"trait":"ArST04C2","lg":4,"pos":367,"effect":-25.6},{"trait":"ArST04C2","lg":4,"pos":395,"effect":-24.7},{"trait":"ArST04C2","lg":4,"pos":411,"effect":-16.8},{"trait":"ArST04C2","lg":4,"pos":428,"effect":-7.9},
{"trait":"ArST04b","lg":4,"pos":343,"effect":-34.5},{"trait":"ArST04b","lg":4,"pos":357,"effect":-37.5},{"trait":"ArST04b","lg":4,"pos":384,"effect":-39.4},{"trait":"ArST04b","lg":4,"pos":400,"effect":-38.5},{"trait":"ArST04b","lg":4,"pos":414,"effect":-26.6},{"trait":"ArST04b","lg":4,"pos":428,"effect":-11.8},{"trait":"ArST04b","lg":4,"pos":433,"effect":-7.9},
{"trait":"ArST041","lg":4,"pos":343,"effect":-39.4},{"trait":"ArST041","lg":4,"pos":357,"effect":-44.0},{"trait":"ArST041","lg":4,"pos":378,"effect":-46.4},{"trait":"ArST041","lg":4,"pos":400,"effect":-44.4},{"trait":"ArST041","lg":4,"pos":417,"effect":-30.6},{"trait":"ArST041","lg":4,"pos":428,"effect":-16.8},{"trait":"ArST041","lg":4,"pos":433,"effect":-10.8},
{"trait":"EspST03","lg":5,"pos":442,"effect":12.8},{"trait":"EspST03","lg":5,"pos":455,"effect":21.7},{"trait":"EspST03","lg":5,"pos":463,"effect":24.7},{"trait":"EspST03","lg":5,"pos":477,"effect":23.7},
{"trait":"ArST041","lg":5,"pos":442,"effect":11.8},{"trait":"ArST041","lg":5,"pos":455,"effect":19.7},{"trait":"ArST041","lg":5,"pos":477,"effect":21.7},
{"trait":"ArST04b","lg":5,"pos":442,"effect":10.8},{"trait":"ArST04b","lg":5,"pos":455,"effect":13.2},{"trait":"ArST04b","lg":5,"pos":480,"effect":13.4},
{"trait":"ArST052","lg":5,"pos":442,"effect":8.9},{"trait":"ArST052","lg":5,"pos":455,"effect":10.8},{"trait":"ArST052","lg":5,"pos":480,"effect":10.8},
{"trait":"ArST051","lg":5,"pos":442,"effect":5.9},{"trait":"ArST051","lg":5,"pos":455,"effect":7.9},{"trait":"ArST051","lg":5,"pos":480,"effect":7.9},
{"trait":"ArST04C2","lg":5,"pos":442,"effect":3.0},{"trait":"ArST04C2","lg":5,"pos":455,"effect":5.9},{"trait":"ArST04C2","lg":5,"pos":480,"effect":5.3},
{"trait":"ArST04C1","lg":5,"pos":442,"effect":0},{"trait":"ArST04C1","lg":5,"pos":458,"effect":2.0},{"trait":"ArST04C1","lg":5,"pos":480,"effect":3.9},
{"trait":"ArST04C2","lg":6,"pos":491,"effect":14.8},{"trait":"ArST04C2","lg":6,"pos":496,"effect":16.8},{"trait":"ArST04C2","lg":6,"pos":499,"effect":6.9},{"trait":"ArST04C2","lg":6,"pos":516,"effect":2.0},{"trait":"ArST04C2","lg":6,"pos":532,"effect":-3.0},{"trait":"ArST04C2","lg":6,"pos":546,"effect":-11.8},{"trait":"ArST04C2","lg":6,"pos":554,"effect":-4.9},{"trait":"ArST04C2","lg":6,"pos":565,"effect":4.9},{"trait":"ArST04C2","lg":6,"pos":576,"effect":8.9},{"trait":"ArST04C2","lg":6,"pos":587,"effect":15.8},{"trait":"ArST04C2","lg":6,"pos":603,"effect":19.7},{"trait":"ArST04C2","lg":6,"pos":620,"effect":20.7},{"trait":"ArST04C2","lg":6,"pos":625,"effect":34.5},{"trait":"ArST04C2","lg":6,"pos":642,"effect":40.4},{"trait":"ArST04C2","lg":6,"pos":658,"effect":42.4},{"trait":"ArST04C2","lg":6,"pos":675,"effect":40.4},{"trait":"ArST04C2","lg":6,"pos":686,"effect":31.6},
{"trait":"EspST03","lg":6,"pos":491,"effect":2.0},{"trait":"EspST03","lg":6,"pos":521,"effect":2.0},{"trait":"EspST03","lg":6,"pos":543,"effect":1.0},{"trait":"EspST03","lg":6,"pos":549,"effect":10.8},{"trait":"EspST03","lg":6,"pos":565,"effect":25.6},{"trait":"EspST03","lg":6,"pos":581,"effect":34.5},{"trait":"EspST03","lg":6,"pos":598,"effect":40.4},{"trait":"EspST03","lg":6,"pos":614,"effect":39.4},{"trait":"EspST03","lg":6,"pos":623,"effect":42.4},{"trait":"EspST03","lg":6,"pos":628,"effect":60.2},{"trait":"EspST03","lg":6,"pos":642,"effect":67.1},{"trait":"EspST03","lg":6,"pos":658,"effect":68.0},{"trait":"EspST03","lg":6,"pos":677,"effect":67.1},{"trait":"EspST03","lg":6,"pos":686,"effect":47.3},
{"trait":"ArST041","lg":6,"pos":491,"effect":10.8},{"trait":"ArST041","lg":6,"pos":505,"effect":8.9},{"trait":"ArST041","lg":6,"pos":527,"effect":6.9},{"trait":"ArST041","lg":6,"pos":543,"effect":3.0},{"trait":"ArST041","lg":6,"pos":549,"effect":12.8},{"trait":"ArST041","lg":6,"pos":565,"effect":23.7},{"trait":"ArST041","lg":6,"pos":581,"effect":36.5},{"trait":"ArST041","lg":6,"pos":603,"effect":38.5},{"trait":"ArST041","lg":6,"pos":620,"effect":37.5},{"trait":"ArST041","lg":6,"pos":628,"effect":54.2},{"trait":"ArST041","lg":6,"pos":644,"effect":57.2},{"trait":"ArST041","lg":6,"pos":669,"effect":56.2},{"trait":"ArST041","lg":6,"pos":686,"effect":45.4},
{"trait":"ArST051","lg":6,"pos":491,"effect":3.9},{"trait":"ArST051","lg":6,"pos":521,"effect":3.9},{"trait":"ArST051","lg":6,"pos":546,"effect":3.0},{"trait":"ArST051","lg":6,"pos":549,"effect":12.8},{"trait":"ArST051","lg":6,"pos":570,"effect":25.6},{"trait":"ArST051","lg":6,"pos":592,"effect":27.6},{"trait":"ArST051","lg":6,"pos":620,"effect":27.6},{"trait":"ArST051","lg":6,"pos":625,"effect":42.4},{"trait":"ArST051","lg":6,"pos":642,"effect":44.4},{"trait":"ArST051","lg":6,"pos":680,"effect":44.8},{"trait":"ArST051","lg":6,"pos":686,"effect":32.5},
{"trait":"ArST04b","lg":6,"pos":491,"effect":3.9},{"trait":"ArST04b","lg":6,"pos":543,"effect":2.0},{"trait":"ArST04b","lg":6,"pos":549,"effect":8.9},{"trait":"ArST04b","lg":6,"pos":570,"effect":23.7},{"trait":"ArST04b","lg":6,"pos":592,"effect":25.6},{"trait":"ArST04b","lg":6,"pos":620,"effect":25.6},{"trait":"ArST04b","lg":6,"pos":625,"effect":41.4},{"trait":"ArST04b","lg":6,"pos":642,"effect":42.8},{"trait":"ArST04b","lg":6,"pos":680,"effect":41.4},{"trait":"ArST04b","lg":6,"pos":686,"effect":28.6},
{"trait":"ArST04C1","lg":6,"pos":491,"effect":1.0},{"trait":"ArST04C1","lg":6,"pos":543,"effect":-3.0},{"trait":"ArST04C1","lg":6,"pos":549,"effect":6.9},{"trait":"ArST04C1","lg":6,"pos":570,"effect":22.7},{"trait":"ArST04C1","lg":6,"pos":592,"effect":25.0},{"trait":"ArST04C1","lg":6,"pos":620,"effect":26.6},{"trait":"ArST04C1","lg":6,"pos":625,"effect":37.5},{"trait":"ArST04C1","lg":6,"pos":642,"effect":38.5},{"trait":"ArST04C1","lg":6,"pos":675,"effect":36.5},{"trait":"ArST04C1","lg":6,"pos":686,"effect":23.7},
{"trait":"ArST052","lg":6,"pos":491,"effect":3.0},{"trait":"ArST052","lg":6,"pos":521,"effect":2.0},{"trait":"ArST052","lg":6,"pos":549,"effect":0},{"trait":"ArST052","lg":6,"pos":570,"effect":3.0},{"trait":"ArST052","lg":6,"pos":592,"effect":4.9},{"trait":"ArST052","lg":6,"pos":614,"effect":6.9},{"trait":"ArST052","lg":6,"pos":625,"effect":12.8},{"trait":"ArST052","lg":6,"pos":642,"effect":20.7},{"trait":"ArST052","lg":6,"pos":658,"effect":21.7},{"trait":"ArST052","lg":6,"pos":677,"effect":20.7},{"trait":"ArST052","lg":6,"pos":683,"effect":18.7},
{"trait":"EspST03","lg":7,"pos":694,"effect":10.8},{"trait":"EspST03","lg":7,"pos":719,"effect":12.8},{"trait":"EspST03","lg":7,"pos":740,"effect":12.8},{"trait":"EspST03","lg":7,"pos":762,"effect":9.9},{"trait":"EspST03","lg":7,"pos":773,"effect":6.9},{"trait":"EspST03","lg":7,"pos":795,"effect":4.9},{"trait":"EspST03","lg":7,"pos":823,"effect":4.9},{"trait":"EspST03","lg":7,"pos":860,"effect":5.0},{"trait":"EspST03","lg":7,"pos":882,"effect":7.9},{"trait":"EspST03","lg":7,"pos":910,"effect":6.9},{"trait":"EspST03","lg":7,"pos":932,"effect":3.0},{"trait":"EspST03","lg":7,"pos":970,"effect":2.0},{"trait":"EspST03","lg":7,"pos":981,"effect":2.0},
{"trait":"ArST04b","lg":7,"pos":694,"effect":6.9},{"trait":"ArST04b","lg":7,"pos":713,"effect":7.9},{"trait":"ArST04b","lg":7,"pos":740,"effect":8.9},{"trait":"ArST04b","lg":7,"pos":762,"effect":6.9},{"trait":"ArST04b","lg":7,"pos":795,"effect":3.0},{"trait":"ArST04b","lg":7,"pos":860,"effect":3.0},{"trait":"ArST04b","lg":7,"pos":915,"effect":0},{"trait":"ArST04b","lg":7,"pos":943,"effect":2.0},{"trait":"ArST04b","lg":7,"pos":981,"effect":3.0},
{"trait":"ArST041","lg":7,"pos":694,"effect":4.9},{"trait":"ArST041","lg":7,"pos":730,"effect":5.9},{"trait":"ArST041","lg":7,"pos":768,"effect":4.9},{"trait":"ArST041","lg":7,"pos":823,"effect":3.9},{"trait":"ArST041","lg":7,"pos":860,"effect":7.9},{"trait":"ArST041","lg":7,"pos":882,"effect":7.9},{"trait":"ArST041","lg":7,"pos":904,"effect":4.9},{"trait":"ArST041","lg":7,"pos":943,"effect":3.0},{"trait":"ArST041","lg":7,"pos":970,"effect":-3.0},
{"trait":"ArST04C2","lg":7,"pos":694,"effect":3.0},{"trait":"ArST04C2","lg":7,"pos":740,"effect":3.9},{"trait":"ArST04C2","lg":7,"pos":779,"effect":2.0},{"trait":"ArST04C2","lg":7,"pos":860,"effect":-1.0},{"trait":"ArST04C2","lg":7,"pos":904,"effect":-3.0},{"trait":"ArST04C2","lg":7,"pos":921,"effect":-7.9},{"trait":"ArST04C2","lg":7,"pos":937,"effect":-2.0},{"trait":"ArST04C2","lg":7,"pos":965,"effect":6.9},{"trait":"ArST04C2","lg":7,"pos":981,"effect":3.9},
{"trait":"ArST051","lg":7,"pos":694,"effect":2.0},{"trait":"ArST051","lg":7,"pos":768,"effect":2.0},{"trait":"ArST051","lg":7,"pos":860,"effect":1.0},{"trait":"ArST051","lg":7,"pos":915,"effect":0},{"trait":"ArST051","lg":7,"pos":948,"effect":3.0},{"trait":"ArST051","lg":7,"pos":981,"effect":3.0},
{"trait":"ArST052","lg":7,"pos":694,"effect":-1.0},{"trait":"ArST052","lg":7,"pos":768,"effect":0},{"trait":"ArST052","lg":7,"pos":860,"effect":1.0},{"trait":"ArST052","lg":7,"pos":915,"effect":1.0},{"trait":"ArST052","lg":7,"pos":943,"effect":3.0},{"trait":"ArST052","lg":7,"pos":981,"effect":3.9},
{"trait":"ArST04C1","lg":7,"pos":694,"effect":-3.0},{"trait":"ArST04C1","lg":7,"pos":768,"effect":-2.0},{"trait":"ArST04C1","lg":7,"pos":823,"effect":0},{"trait":"ArST04C1","lg":7,"pos":860,"effect":2.0},{"trait":"ArST04C1","lg":7,"pos":915,"effect":-1.0},{"trait":"ArST04C1","lg":7,"pos":948,"effect":-3.0},{"trait":"ArST04C1","lg":7,"pos":981,"effect":-3.9},
{"trait":"ArST04C2","lg":8,"pos":991,"effect":9.9},{"trait":"ArST04C2","lg":8,"pos":998,"effect":1.0},
{"trait":"ArST04C1","lg":8,"pos":992,"effect":1.0},{"trait":"ArST04C1","lg":8,"pos":998,"effect":0},
{"trait":"EspST03","lg":8,"pos":992,"effect":0},{"trait":"EspST03","lg":8,"pos":998,"effect":-1.0},
{"trait":"ArST04C2","lg":9,"pos":1009,"effect":3.9},{"trait":"ArST04C2","lg":9,"pos":1042,"effect":3.0},{"trait":"ArST04C2","lg":9,"pos":1066,"effect":3.9},{"trait":"ArST04C2","lg":9,"pos":1080,"effect":7.9},{"trait":"ArST04C2","lg":9,"pos":1102,"effect":14.8},{"trait":"ArST04C2","lg":9,"pos":1124,"effect":20.3},{"trait":"ArST04C2","lg":9,"pos":1141,"effect":19.7},{"trait":"ArST04C2","lg":9,"pos":1157,"effect":15.8},{"trait":"ArST04C2","lg":9,"pos":1174,"effect":13.2},
{"trait":"ArST051","lg":9,"pos":1009,"effect":1.0},{"trait":"ArST051","lg":9,"pos":1042,"effect":-2.0},{"trait":"ArST051","lg":9,"pos":1069,"effect":-1.0},{"trait":"ArST051","lg":9,"pos":1091,"effect":1.0},{"trait":"ArST051","lg":9,"pos":1108,"effect":4.9},{"trait":"ArST051","lg":9,"pos":1130,"effect":8.5},{"trait":"ArST051","lg":9,"pos":1157,"effect":9.3},{"trait":"ArST051","lg":9,"pos":1174,"effect":8.5},
{"trait":"EspST03","lg":9,"pos":1009,"effect":2.0},{"trait":"EspST03","lg":9,"pos":1053,"effect":-1.0},{"trait":"EspST03","lg":9,"pos":1086,"effect":-3.9},{"trait":"EspST03","lg":9,"pos":1108,"effect":-9.9},{"trait":"EspST03","lg":9,"pos":1130,"effect":-14.4},{"trait":"EspST03","lg":9,"pos":1152,"effect":-12.8},{"trait":"EspST03","lg":9,"pos":1174,"effect":-10.8},
{"trait":"ArST052","lg":9,"pos":1009,"effect":0},{"trait":"ArST052","lg":9,"pos":1036,"effect":-4.9},{"trait":"ArST052","lg":9,"pos":1069,"effect":-7.9},{"trait":"ArST052","lg":9,"pos":1102,"effect":-6.9},{"trait":"ArST052","lg":9,"pos":1124,"effect":-3.9},{"trait":"ArST052","lg":9,"pos":1146,"effect":0},{"trait":"ArST052","lg":9,"pos":1174,"effect":2.0},
{"trait":"ArST04b","lg":9,"pos":1009,"effect":0},{"trait":"ArST04b","lg":9,"pos":1036,"effect":-3.9},{"trait":"ArST04b","lg":9,"pos":1069,"effect":-4.9},{"trait":"ArST04b","lg":9,"pos":1102,"effect":-3.9},{"trait":"ArST04b","lg":9,"pos":1135,"effect":2.0},{"trait":"ArST04b","lg":9,"pos":1174,"effect":3.0},
{"trait":"ArST04C1","lg":9,"pos":1009,"effect":1.0},{"trait":"ArST04C1","lg":9,"pos":1047,"effect":-2.0},{"trait":"ArST04C1","lg":9,"pos":1091,"effect":-1.0},{"trait":"ArST04C1","lg":9,"pos":1124,"effect":2.0},{"trait":"ArST04C1","lg":9,"pos":1146,"effect":3.0},{"trait":"ArST04C1","lg":9,"pos":1174,"effect":3.0},
{"trait":"ArST041","lg":9,"pos":1009,"effect":3.9},{"trait":"ArST041","lg":9,"pos":1047,"effect":2.0},{"trait":"ArST041","lg":9,"pos":1091,"effect":1.0},{"trait":"ArST041","lg":9,"pos":1135,"effect":0},{"trait":"ArST041","lg":9,"pos":1174,"effect":-1.0},
{"trait":"ArST041","lg":10,"pos":1185,"effect":6.9},{"trait":"ArST041","lg":10,"pos":1207,"effect":11.2},{"trait":"ArST041","lg":10,"pos":1245,"effect":13.8},{"trait":"ArST041","lg":10,"pos":1278,"effect":14.8},{"trait":"ArST041","lg":10,"pos":1311,"effect":12.8},{"trait":"ArST041","lg":10,"pos":1331,"effect":6.9},
{"trait":"ArST051","lg":10,"pos":1185,"effect":6.9},{"trait":"ArST051","lg":10,"pos":1207,"effect":11.8},{"trait":"ArST051","lg":10,"pos":1234,"effect":12.8},{"trait":"ArST051","lg":10,"pos":1267,"effect":13.4},{"trait":"ArST051","lg":10,"pos":1311,"effect":10.8},{"trait":"ArST051","lg":10,"pos":1331,"effect":3.0},
{"trait":"ArST052","lg":10,"pos":1185,"effect":4.9},{"trait":"ArST052","lg":10,"pos":1207,"effect":9.9},{"trait":"ArST052","lg":10,"pos":1245,"effect":11.8},{"trait":"ArST052","lg":10,"pos":1278,"effect":13.4},{"trait":"ArST052","lg":10,"pos":1317,"effect":9.9},{"trait":"ArST052","lg":10,"pos":1331,"effect":4.9},
{"trait":"ArST04C1","lg":10,"pos":1185,"effect":5.9},{"trait":"ArST04C1","lg":10,"pos":1218,"effect":10.8},{"trait":"ArST04C1","lg":10,"pos":1245,"effect":13.2},{"trait":"ArST04C1","lg":10,"pos":1278,"effect":12.8},{"trait":"ArST04C1","lg":10,"pos":1317,"effect":9.9},{"trait":"ArST04C1","lg":10,"pos":1331,"effect":3.9},
{"trait":"ArST04b","lg":10,"pos":1185,"effect":3.9},{"trait":"ArST04b","lg":10,"pos":1218,"effect":7.9},{"trait":"ArST04b","lg":10,"pos":1256,"effect":8.9},{"trait":"ArST04b","lg":10,"pos":1300,"effect":7.9},{"trait":"ArST04b","lg":10,"pos":1331,"effect":3.9},
{"trait":"ArST04C2","lg":10,"pos":1185,"effect":3.0},{"trait":"ArST04C2","lg":10,"pos":1218,"effect":3.9},{"trait":"ArST04C2","lg":10,"pos":1245,"effect":5.3},{"trait":"ArST04C2","lg":10,"pos":1289,"effect":6.9},{"trait":"ArST04C2","lg":10,"pos":1322,"effect":5.3},
{"trait":"EspST03","lg":10,"pos":1185,"effect":-6.9},{"trait":"EspST03","lg":10,"pos":1201,"effect":-3.9},{"trait":"EspST03","lg":10,"pos":1218,"effect":1.0},{"trait":"EspST03","lg":10,"pos":1240,"effect":5.3},{"trait":"EspST03","lg":10,"pos":1267,"effect":8.5},{"trait":"EspST03","lg":10,"pos":1289,"effect":9.9},{"trait":"EspST03","lg":10,"pos":1317,"effect":8.9},{"trait":"EspST03","lg":10,"pos":1331,"effect":6.9},
{"trait":"EspST03","lg":11,"pos":1339,"effect":-17.8},{"trait":"EspST03","lg":11,"pos":1355,"effect":-21.7},{"trait":"EspST03","lg":11,"pos":1372,"effect":-20.7},{"trait":"EspST03","lg":11,"pos":1386,"effect":-18.7},
{"trait":"ArST04b","lg":11,"pos":1339,"effect":-15.8},{"trait":"ArST04b","lg":11,"pos":1361,"effect":-16.8},{"trait":"ArST04b","lg":11,"pos":1386,"effect":-14.8},
{"trait":"ArST051","lg":11,"pos":1339,"effect":-13.8},{"trait":"ArST051","lg":11,"pos":1361,"effect":-15.8},{"trait":"ArST051","lg":11,"pos":1386,"effect":-12.8},
{"trait":"ArST04C2","lg":11,"pos":1339,"effect":-8.9},{"trait":"ArST04C2","lg":11,"pos":1361,"effect":-10.8},{"trait":"ArST04C2","lg":11,"pos":1386,"effect":-7.9},
{"trait":"ArST052","lg":11,"pos":1339,"effect":-3.0},{"trait":"ArST052","lg":11,"pos":1386,"effect":-3.0},
{"trait":"ArST041","lg":11,"pos":1339,"effect":-6.9},{"trait":"ArST041","lg":11,"pos":1386,"effect":-6.9},
{"trait":"ArST04C1","lg":11,"pos":1339,"effect":-4.9},{"trait":"ArST04C1","lg":11,"pos":1386,"effect":-4.9},
{"trait":"EspST03","lg":12,"pos":1394,"effect":-14.8},{"trait":"EspST03","lg":12,"pos":1410,"effect":-10.8},{"trait":"EspST03","lg":12,"pos":1421,"effect":10.8},{"trait":"EspST03","lg":12,"pos":1427,"effect":5.9},{"trait":"EspST03","lg":12,"pos":1443,"effect":2.0},{"trait":"EspST03","lg":12,"pos":1465,"effect":-3.0},{"trait":"EspST03","lg":12,"pos":1487,"effect":-10.8},{"trait":"EspST03","lg":12,"pos":1504,"effect":-19.7},{"trait":"EspST03","lg":12,"pos":1520,"effect":-24.7},{"trait":"EspST03","lg":12,"pos":1553,"effect":-21.7},{"trait":"EspST03","lg":12,"pos":1576,"effect":-21.7},{"trait":"EspST03","lg":12,"pos":1598,"effect":-18.7},{"trait":"EspST03","lg":12,"pos":1614,"effect":-12.8},{"trait":"EspST03","lg":12,"pos":1631,"effect":-4.9},{"trait":"EspST03","lg":12,"pos":1653,"effect":-1.0},
{"trait":"ArST04C1","lg":12,"pos":1394,"effect":-1.0},{"trait":"ArST04C1","lg":12,"pos":1421,"effect":3.0},{"trait":"ArST04C1","lg":12,"pos":1427,"effect":-4.9},{"trait":"ArST04C1","lg":12,"pos":1438,"effect":-15.8},{"trait":"ArST04C1","lg":12,"pos":1454,"effect":-17.8},{"trait":"ArST04C1","lg":12,"pos":1487,"effect":-18.3},{"trait":"ArST04C1","lg":12,"pos":1498,"effect":-19.7},{"trait":"ArST04C1","lg":12,"pos":1520,"effect":-19.7},{"trait":"ArST04C1","lg":12,"pos":1553,"effect":-12.8},{"trait":"ArST04C1","lg":12,"pos":1576,"effect":-7.9},{"trait":"ArST04C1","lg":12,"pos":1620,"effect":-7.9},{"trait":"ArST04C1","lg":12,"pos":1653,"effect":-6.9},
{"trait":"ArST04b","lg":12,"pos":1394,"effect":0},{"trait":"ArST04b","lg":12,"pos":1421,"effect":2.0},{"trait":"ArST04b","lg":12,"pos":1427,"effect":-3.0},{"trait":"ArST04b","lg":12,"pos":1443,"effect":-8.9},{"trait":"ArST04b","lg":12,"pos":1465,"effect":-14.4},{"trait":"ArST04b","lg":12,"pos":1487,"effect":-14.8},{"trait":"ArST04b","lg":12,"pos":1520,"effect":-15.8},{"trait":"ArST04b","lg":12,"pos":1548,"effect":-13.8},{"trait":"ArST04b","lg":12,"pos":1576,"effect":-7.9},{"trait":"ArST04b","lg":12,"pos":1620,"effect":-3.0},{"trait":"ArST04b","lg":12,"pos":1653,"effect":-1.0},
{"trait":"ArST052","lg":12,"pos":1394,"effect":1.0},{"trait":"ArST052","lg":12,"pos":1421,"effect":2.0},{"trait":"ArST052","lg":12,"pos":1427,"effect":-3.9},{"trait":"ArST052","lg":12,"pos":1454,"effect":-7.9},{"trait":"ArST052","lg":12,"pos":1487,"effect":-10.8},{"trait":"ArST052","lg":12,"pos":1509,"effect":-14.8},{"trait":"ArST052","lg":12,"pos":1537,"effect":-13.8},{"trait":"ArST052","lg":12,"pos":1559,"effect":-5.9},{"trait":"ArST052","lg":12,"pos":1603,"effect":-3.0},{"trait":"ArST052","lg":12,"pos":1653,"effect":0},
{"trait":"ArST051","lg":12,"pos":1394,"effect":-1.0},{"trait":"ArST051","lg":12,"pos":1421,"effect":1.0},{"trait":"ArST051","lg":12,"pos":1432,"effect":-3.0},{"trait":"ArST051","lg":12,"pos":1465,"effect":-6.9},{"trait":"ArST051","lg":12,"pos":1493,"effect":-11.8},{"trait":"ArST051","lg":12,"pos":1526,"effect":-13.8},{"trait":"ArST051","lg":12,"pos":1553,"effect":-7.9},{"trait":"ArST051","lg":12,"pos":1598,"effect":-4.9},{"trait":"ArST051","lg":12,"pos":1631,"effect":-3.0},{"trait":"ArST051","lg":12,"pos":1653,"effect":-3.9},
{"trait":"ArST04C2","lg":12,"pos":1394,"effect":-4.9},{"trait":"ArST04C2","lg":12,"pos":1421,"effect":1.0},{"trait":"ArST04C2","lg":12,"pos":1432,"effect":-6.9},{"trait":"ArST04C2","lg":12,"pos":1465,"effect":-9.9},{"trait":"ArST04C2","lg":12,"pos":1498,"effect":-15.8},{"trait":"ArST04C2","lg":12,"pos":1531,"effect":-14.8},{"trait":"ArST04C2","lg":12,"pos":1565,"effect":-13.8},{"trait":"ArST04C2","lg":12,"pos":1592,"effect":-17.8},{"trait":"ArST04C2","lg":12,"pos":1620,"effect":-11.8},{"trait":"ArST04C2","lg":12,"pos":1653,"effect":-2.0},
{"trait":"ArST041","lg":12,"pos":1394,"effect":-6.9},{"trait":"ArST041","lg":12,"pos":1421,"effect":-1.0},{"trait":"ArST041","lg":12,"pos":1432,"effect":-4.9},{"trait":"ArST041","lg":12,"pos":1465,"effect":-5.9},{"trait":"ArST041","lg":12,"pos":1498,"effect":-17.8},{"trait":"ArST041","lg":12,"pos":1531,"effect":-17.8},{"trait":"ArST041","lg":12,"pos":1576,"effect":-20.7},{"trait":"ArST041","lg":12,"pos":1609,"effect":-18.7},{"trait":"ArST041","lg":12,"pos":1631,"effect":-9.9},{"trait":"ArST041","lg":12,"pos":1653,"effect":-8.9}
]
},
"layer": [
{
 "data": {"name": "legend"},
 "layer": [
  {"mark": {"type": "bar"},
   "encoding": {
    "x": {"field": "trait", "type": "nominal", "sort": null, "scale": {"type": "band", "domain": ["ArST04b","ArST04C1","ArST04C2","EspST03","ArST041","ArST051","ArST052"], "range": [66, 1191], "paddingInner": 0.104, "paddingOuter": 0}, "axis": null},
    "y": {"datum": 20, "type": "quantitative", "scale": {"domain": [0, 20], "range": [20, 0], "nice": false}, "axis": null},
    "y2": {"datum": 17},
    "color": {"field": "trait", "type": "nominal", "scale": {"domain": ["ArST04b","ArST04C1","ArST04C2","EspST03","ArST041","ArST051","ArST052"], "range": ["#2F6A57","#FF0000","#9A9A22","#FF8C1E","#9B9BFF","#00EE00","#1F4F8F"]}, "legend": null}
   }},
  {"mark": {"type": "text", "fontSize": 24, "baseline": "middle", "align": "center", "color": "black", "font": "Liberation Sans"},
   "encoding": {
    "x": {"field": "trait", "type": "nominal", "sort": null, "scale": {"type": "band", "domain": ["ArST04b","ArST04C1","ArST04C2","EspST03","ArST041","ArST051","ArST052"], "range": [66, 1191], "paddingInner": 0.104, "paddingOuter": 0}, "axis": null},
    "y": {"datum": 1, "type": "quantitative", "scale": {"domain": [0, 20], "range": [20, 0], "nice": false}, "axis": null},
    "text": {"field": "label"}
   }}
 ]
},
{
 "layer": [
  {
   "layer": [
    {"data": {"values": [{}]},
     "mark": {"type": "rule", "color": "#2D5C94", "strokeWidth": 2},
     "encoding": {
      "x": {"datum": 81, "type": "quantitative", "scale": {"domain": [81, 1714], "range": [74, 1707], "nice": false, "zero": false},
            "axis": {"orient": "bottom", "offset": -349, "domain": true, "domainColor": "black", "domainWidth": 5, "ticks": false, "labels": false, "grid": false, "title": "cM", "titleFontSize": 24, "titleFontWeight": "normal", "titleColor": "black", "titleX": 1671, "titleY": -21, "titleAlign": "center", "titleBaseline": "middle"}},
      "x2": {"datum": 1679},
      "y": {"datum": 2.4, "type": "quantitative", "scale": {"domain": [-4.2, 21.26], "range": [784, 65], "nice": false, "zero": false},
            "axis": {"orient": "left", "offset": -74, "values": [0, 4, 8, 12, 16, 20], "format": ".1f", "domainColor": "black", "domainWidth": 4, "tickColor": "black", "tickWidth": 4, "tickSize": 8, "labelFontSize": 24, "labelColor": "black", "labelPadding": 0, "labelFlush": false, "labelOverlap": false, "grid": false, "title": "LOD0", "titleAngle": 0, "titleAlign": "left", "titleBaseline": "middle", "titleX": 16, "titleY": 83, "titleFontSize": 24, "titleFontWeight": "normal", "titleColor": "black"}}
     }},
    {"data": {"name": "lod"},
     "mark": {"type": "line", "strokeWidth": 1.8},
     "encoding": {
      "x": {"field": "pos", "type": "quantitative", "scale": {"domain": [81, 1714], "range": [74, 1707], "nice": false, "zero": false}},
      "y": {"field": "lod", "type": "quantitative", "scale": {"domain": [-4.2, 21.26], "range": [784, 65], "nice": false, "zero": false}},
      "color": {"field": "trait", "type": "nominal", "scale": {"domain": ["ArST04b","ArST04C1","ArST04C2","EspST03","ArST041","ArST051","ArST052"], "range": ["#2F6A57","#FF0000","#9A9A22","#FF8C1E","#9B9BFF","#00EE00","#1F4F8F"]}, "legend": null},
      "detail": {"field": "lg", "type": "nominal"}
     }},
    {"data": {"values": [{"pos": 81, "lod": 20.86}]},
     "mark": {"type": "point", "shape": "M0,-1L0.6,1L-0.6,1Z", "size": 576, "filled": true, "color": "black", "opacity": 1},
     "encoding": {
      "x": {"field": "pos", "type": "quantitative", "scale": {"domain": [81, 1714], "range": [74, 1707], "nice": false, "zero": false}},
      "y": {"field": "lod", "type": "quantitative", "scale": {"domain": [-4.2, 21.26], "range": [784, 65], "nice": false, "zero": false}}
     }},
    {"data": {"values": [{"pos": 1701.5, "lod": -4.2}]},
     "mark": {"type": "point", "shape": "M1,0L-1,-0.7L-1,0.7Z", "size": 1089, "filled": true, "color": "black", "opacity": 1},
     "encoding": {
      "x": {"field": "pos", "type": "quantitative", "scale": {"domain": [81, 1714], "range": [74, 1707], "nice": false, "zero": false}},
      "y": {"field": "lod", "type": "quantitative", "scale": {"domain": [-4.2, 21.26], "range": [784, 65], "nice": false, "zero": false}}
     }},
    {"data": {"name": "lglabels"},
     "transform": [{"filter": "datum.side == 'end'"}],
     "mark": {"type": "text", "fontSize": 24, "baseline": "middle", "align": "center", "color": "black", "font": "Liberation Sans"},
     "encoding": {
      "x": {"field": "pos", "type": "quantitative", "scale": {"domain": [81, 1714], "range": [74, 1707], "nice": false, "zero": false}},
      "y": {"datum": -3.46, "type": "quantitative", "scale": {"domain": [-4.2, 21.26], "range": [784, 65], "nice": false, "zero": false}},
      "text": {"field": "label"}
     }},
    {"data": {"name": "lglabels"},
     "transform": [{"filter": "datum.side == 'start'"}],
     "mark": {"type": "text", "fontSize": 24, "baseline": "middle", "align": "center", "color": "black", "font": "Liberation Sans"},
     "encoding": {
      "x": {"field": "pos", "type": "quantitative", "scale": {"domain": [81, 1714], "range": [74, 1707], "nice": false, "zero": false}},
      "y": {"datum": -4.88, "type": "quantitative", "scale": {"domain": [-4.2, 21.26], "range": [784, 65], "nice": false, "zero": false}},
      "text": {"field": "label"}
     }}
   ]
  },
  {"data": {"name": "intervals"},
   "mark": {"type": "rule", "strokeWidth": 4, "color": "black"},
   "encoding": {
    "x": {"field": "start", "type": "quantitative", "scale": {"domain": [81, 1714], "range": [74, 1707], "nice": false, "zero": false}},
    "x2": {"field": "end"},
    "y": {"field": "trait", "type": "nominal", "sort": null, "scale": {"type": "point", "domain": ["ArST04b","ArST04C1","ArST04C2","EspST03","ArST041","ArST051","ArST052"], "range": [680, 760], "padding": 0},
          "axis": {"orient": "left", "offset": -74, "domain": false, "labels": false, "ticks": true, "tickSize": 16, "tickWidth": 2, "tickColor": "black", "title": null, "grid": false}}
   }},
  {
   "layer": [
    {"data": {"name": "effect"},
     "mark": {"type": "line", "strokeWidth": 1.8},
     "encoding": {
      "x": {"field": "pos", "type": "quantitative", "scale": {"domain": [81, 1714], "range": [74, 1707], "nice": false, "zero": false}},
      "y": {"field": "effect", "type": "quantitative", "scale": {"domain": [-85.4, 84.2], "range": [1125, 837], "nice": false, "zero": false},
            "axis": {"orient": "left", "offset": -74, "values": [-69.5, -34.8, 0, 34.8, 69.5], "labelExpr": "datum.value == 0 ? '0.00' : (datum.value < 0 ? '-' + format(-datum.value, '.1f') : format(datum.value, '.1f'))", "domainColor": "black", "domainWidth": 2, "tickColor": "black", "tickWidth": 1.5, "tickSize": 8, "labelFontSize": 24, "labelColor": "black", "labelPadding": 0, "labelFlush": false, "labelOverlap": false, "grid": false, "title": "a(H1)", "titleAngle": 0, "titleAlign": "left", "titleBaseline": "middle", "titleX": 15, "titleY": 847, "titleFontSize": 24, "titleFontWeight": "normal", "titleColor": "black"}},
      "color": {"field": "trait", "type": "nominal", "scale": {"domain": ["ArST04b","ArST04C1","ArST04C2","EspST03","ArST041","ArST051","ArST052"], "range": ["#2F6A57","#FF0000","#9A9A22","#FF8C1E","#9B9BFF","#00EE00","#1F4F8F"]}, "legend": null},
      "detail": {"field": "lg", "type": "nominal"}
     }},
    {"data": {"values": [{}]},
     "mark": {"type": "rule", "color": "black", "strokeWidth": 2},
     "encoding": {
      "x": {"datum": 81, "type": "quantitative", "scale": {"domain": [81, 1714], "range": [74, 1707], "nice": false, "zero": false}},
      "x2": {"datum": 1706},
      "y": {"datum": 0, "type": "quantitative", "scale": {"domain": [-85.4, 84.2], "range": [1125, 837], "nice": false, "zero": false}}
     }},
    {"data": {"name": "needles"},
     "mark": {"type": "rule", "color": "black", "strokeWidth": 4},
     "encoding": {
      "x": {"field": "pos", "type": "quantitative", "scale": {"domain": [81, 1714], "range": [74, 1707], "nice": false, "zero": false}},
      "y": {"field": "effect", "type": "quantitative", "scale": {"domain": [-85.4, 84.2], "range": [1125, 837], "nice": false, "zero": false}},
      "y2": {"datum": 0}
     }},
    {"data": {"values": [{"pos": 1708, "effect": 0}]},
     "mark": {"type": "point", "shape": "M1,0L-1,-0.7L-1,0.7Z", "size": 196, "filled": true, "color": "black", "opacity": 1},
     "encoding": {
      "x": {"field": "pos", "type": "quantitative", "scale": {"domain": [81, 1714], "range": [74, 1707], "nice": false, "zero": false}},
      "y": {"field": "effect", "type": "quantitative", "scale": {"domain": [-85.4, 84.2], "range": [1125, 837], "nice": false, "zero": false}}
     }},
    {"data": {"values": [{"pos": 81, "effect": 80.5, "dir": "up"}, {"pos": 81, "effect": -81.5, "dir": "down"}]},
     "mark": {"type": "point", "filled": true, "color": "black", "opacity": 1, "size": 90},
     "encoding": {
      "x": {"field": "pos", "type": "quantitative", "scale": {"domain": [81, 1714], "range": [74, 1707], "nice": false, "zero": false}},
      "y": {"field": "effect", "type": "quantitative", "scale": {"domain": [-85.4, 84.2], "range": [1125, 837], "nice": false, "zero": false}},
      "shape": {"field": "dir", "type": "nominal", "scale": {"domain": ["up", "down"], "range": ["triangle-up", "triangle-down"]}, "legend": null}
     }}
   ]
  }
 ],
 "resolve": {"scale": {"y": "independent"}}
}
],
"resolve": {"scale": {"x": "independent", "y": "independent"}}
}
